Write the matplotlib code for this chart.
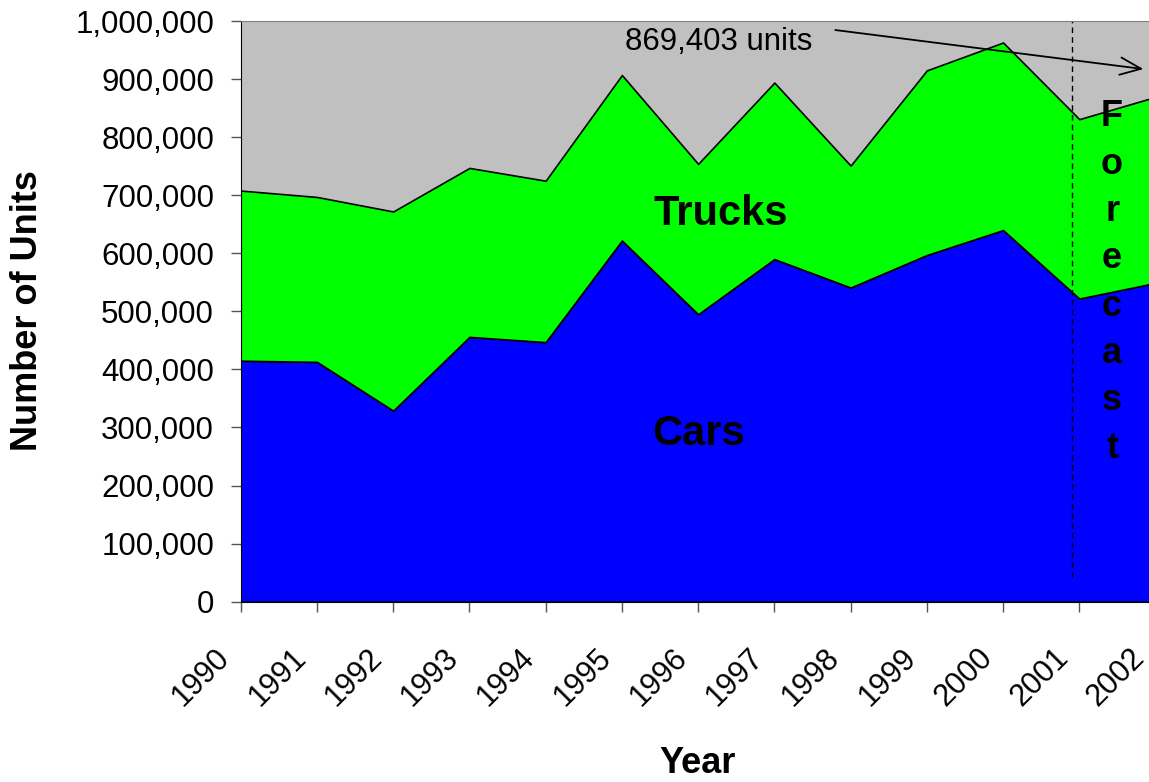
import matplotlib
matplotlib.use('Agg')
import matplotlib.pyplot as plt
import matplotlib.transforms as mtransforms
from matplotlib.ticker import FuncFormatter

plt.rcParams['font.family'] = ['Liberation Sans', 'DejaVu Sans']

years = [1990, 1991, 1992, 1993, 1994, 1995, 1996, 1997, 1998, 1999, 2000, 2001, 2002]
cars = [415000, 413000, 329000, 456000, 447000, 622000, 495000, 590000, 541000, 597000, 640000, 522000, 549000]
trucks = [293000, 284000, 343000, 291000, 278000, 285000, 259000, 304000, 210000, 318000, 323000, 309000, 320403]
year_labels = [str(y) for y in years]
forecast_total = 869403

fig = plt.figure(figsize=(11.49, 7.82), dpi=100)
# plot area runs past the right edge of the picture, as in the original
ax = fig.add_axes([0.2095, 0.2306, 0.7962, 0.7425])
ax.set_facecolor('#C0C0C0')

ax.stackplot(years, cars, trucks, colors=['#0000FF', '#00FF00'],
             edgecolor='black', linewidth=1.2)

ax.set_xlim(1990, 2002)
ax.set_ylim(0, 1000000)
ax.set_yticks(range(0, 1000001, 100000))
ax.yaxis.set_major_formatter(FuncFormatter(lambda v, p: f'{int(v):,}'))
ax.set_xticks(years)
ax.set_xticklabels(year_labels, rotation=45, ha='right', va='top',
                   rotation_mode='anchor')

ax.tick_params(axis='y', direction='out', length=7.2, width=1, color='#555555',
               labelsize=22.5, pad=12)
ax.tick_params(axis='x', direction='out', length=7.2, width=1, color='#555555',
               labelsize=22, pad=0)
shift = mtransforms.ScaledTranslation(-0.26, -0.31, fig.dpi_scale_trans)
for lab in ax.get_xticklabels():
    lab.set_transform(lab.get_transform() + shift)

ax.spines['left'].set_color('black')
ax.spines['bottom'].set_color('black')
ax.spines['top'].set_color('#808080')
ax.spines['right'].set_visible(False)

# forecast divider
ax.plot([2000.91, 2000.91], [43000, 1000000], color='black', lw=1,
        linestyle=(0, (4, 3)))
for i, ch in enumerate('Forecast'):
    ax.text(2001.43, 819000 - i * 81600, ch, fontsize=26, fontweight='bold',
            ha='center', va='baseline')

ax.text(1996.30, 648700, 'Trucks', fontsize=30, fontweight='bold',
        ha='center', va='baseline')
ax.text(1996.0, 269800, 'Cars', fontsize=30, fontweight='bold',
        ha='center', va='baseline')

ax.annotate('', xy=(2001.84, 917300), xytext=(1997.80, 984500),
            arrowprops=dict(arrowstyle='->,head_length=0.6,head_width=0.25',
                            color='black', lw=1.3, mutation_scale=25,
                            shrinkA=0, shrinkB=0))
ax.text(1995.04, 950100, f'{forecast_total:,} units', fontsize=22.5,
        ha='left', va='baseline')

fig.text(28 / 1149, 1 - 311 / 782, 'Number of Units', rotation=90,
         fontsize=26, fontweight='bold', ha='center', va='center')
fig.text(698 / 1149, 1 / 782, 'Year', fontsize=26, fontweight='bold',
         ha='center', va='bottom')

fig.savefig('out.png', dpi=100)
